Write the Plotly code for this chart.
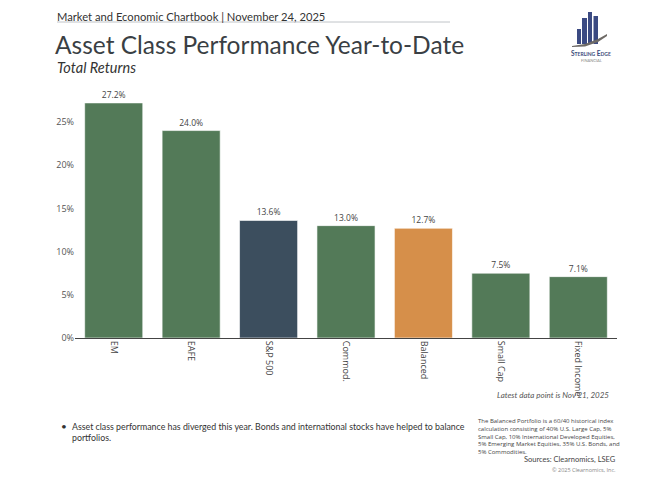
import plotly.graph_objects as go

categories = ["EM", "EAFE", "S&P 500", "Commod.", "Balanced", "Small Cap", "Fixed Income"]
returns = [27.2, 24.0, 13.6, 13.0, 12.7, 7.5, 7.1]
bar_colors = ["#537a58", "#537a58", "#3c4e5e", "#537a58", "#d68f4a", "#537a58", "#537a58"]
y_ticks = [0, 5, 10, 15, 20, 25]
y_tick_labels = ["0%", "5%", "10%", "15%", "20%", "25%"]

OFF = 8  # page body margin offset
W, H = 672 - OFF, 480 - OFF
L, R, T, B = 75, 617, 96, 338


def px(x):
    return (x - L) / (R - L)


def py(y):
    return (B - y) / (B - T)


fig = go.Figure()
fig.add_trace(go.Bar(
    x=categories,
    y=returns,
    marker=dict(color=bar_colors, line=dict(color="rgba(255,255,255,0.6)", width=1)),
    text=[f"{v:.1f}%" for v in returns],
    textposition="outside",
    textfont=dict(size=8.5, color="#444444", family="Open Sans"),
    cliponaxis=False,
    hoverinfo="skip",
))

fig.update_layout(
    width=W, height=H,
    margin=dict(l=L - OFF, r=672 - R, t=T - OFF, b=480 - B, pad=0),
    paper_bgcolor="white", plot_bgcolor="white",
    bargap=0.25,
    showlegend=False,
    font=dict(family="Open Sans", color="#444444"),
)
fig.update_xaxes(
    showline=True, linecolor="#444444", linewidth=1,
    tickangle=90, tickfont=dict(size=9, color="#444444"),
    ticks="", showgrid=False,
)
fig.update_yaxes(
    range=[0, 28], tickvals=y_ticks, ticktext=y_tick_labels,
    showgrid=False, zeroline=False, showline=False,
    tickfont=dict(size=9, color="#555555"), ticks="",
)

ann = []


def text(x, y, s, size, color="#333333", family="Lato", xanchor="left", yanchor="middle", align="left"):
    ann.append(dict(xref="paper", yref="paper", x=px(x), y=py(y), text=s, showarrow=False,
                    font=dict(size=size, color=color, family=family),
                    xanchor=xanchor, yanchor=yanchor, align=align))


text(55, 8, "Market and Economic Chartbook | November 24, 2025", 11.2, "#333333", yanchor="top")
text(53, 44, "Asset Class Performance Year-to-Date", 24.5, "#3a3f44")
text(55, 67, "<i>Total Returns</i>", 14.5, "#333333")
text(611, 395, "<i>Latest data point is Nov 21, 2025</i>", 8, "#555555", xanchor="right")
text(59, 426, "•", 10, "#333333")
text(70, 432, "Asset class performance has diverged this year. Bonds and international stocks have helped to balance<br>portfolios.", 8.8, "#333333")
text(476, 436, "The Balanced Portfolio is a 60/40 historical index<br>calculation consisting of 40% U.S. Large Cap, 5%<br>Small Cap, 10% International Developed Equities,<br>5% Emerging Market Equities, 35% U.S. Bonds, and<br>5% Commodities.", 6, "#444444", family="Open Sans")
text(618, 460, "Sources: Clearnomics, LSEG", 7.5, "#444444", xanchor="right")
text(618, 470, "© 2025 Clearnomics, Inc.", 5.5, "#888888", xanchor="right", family="Open Sans")
text(591, 53, "<b>S<span style='font-size:5px'>TERLING</span> E<span style='font-size:5px'>DGE</span></b>", 6.5, "#3b4a7a", xanchor="center")
text(591, 60, "FINANCIAL", 4, "#888888", xanchor="center")

fig.update_layout(annotations=ann)

shapes = [
    dict(type="line", xref="paper", yref="paper", x0=px(57), x1=px(450), y0=py(22), y1=py(22),
         line=dict(color="#c0c4c8", width=1)),
]
logo_bars = [(577, 581, 29), (582, 587, 18), (588, 592, 12), (593.5, 598, 16)]
for x0, x1, top in logo_bars:
    shapes.append(dict(type="rect", xref="paper", yref="paper", x0=px(x0), x1=px(x1), y0=py(44), y1=py(top),
                       fillcolor="#3b4a82", line=dict(width=0)))
pts_top = [(572, 46), (585, 44), (598, 39), (607, 34)]
pts_bot = [(607, 36), (598, 42), (585, 46.5), (572, 47)]


def path(points):
    s = ""
    for i, (x, y) in enumerate(points):
        s += ("M" if i == 0 else "L") + f" {px(x)} {py(y)} "
    return s + "Z"


shapes.append(dict(type="path", xref="paper", yref="paper", path=path(pts_top + pts_bot),
                   fillcolor="#6e6a66", line=dict(width=0)))
fig.update_layout(shapes=shapes)

fig.write_html("out.html")
